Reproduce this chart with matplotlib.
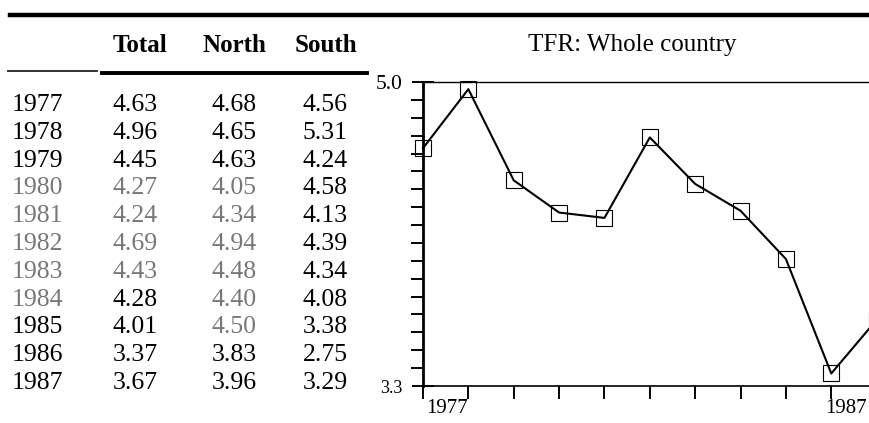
import matplotlib
matplotlib.use("Agg")
import matplotlib.pyplot as plt
from matplotlib.lines import Line2D
from matplotlib.transforms import offset_copy

plt.rcParams['font.family'] = ['Liberation Serif', 'DejaVu Serif']

# table data (TFR by region)
years = [1977, 1978, 1979, 1980, 1981, 1982, 1983, 1984, 1985, 1986, 1987]
total = [4.63, 4.96, 4.45, 4.27, 4.24, 4.69, 4.43, 4.28, 4.01, 3.37, 3.67]
north = [4.68, 4.65, 4.63, 4.05, 4.34, 4.94, 4.48, 4.40, 4.50, 3.83, 3.96]
south = [4.56, 5.31, 4.24, 4.58, 4.13, 4.39, 4.34, 4.08, 3.38, 2.75, 3.29]
headers = ['Total', 'North', 'South']
chart_title = 'TFR: Whole country'

# cells that came out faint in the scan (row, col) ; col 0 = year
faint = {(3, 0), (4, 0), (5, 0), (6, 0), (7, 0), (3, 1), (3, 2), (4, 1), (4, 2),
         (5, 1), (5, 2), (6, 2), (7, 2), (8, 2), (6, 1)}

W, H = 870, 423
fig = plt.figure(figsize=(W / 100, H / 100), dpi=100)


def px(x, y):
    return x / W, 1 - y / H


# rules
fig.add_artist(Line2D([10 / W, 1], [1 - 15 / H] * 2, color='black', lw=3.2))
fig.add_artist(Line2D([102 / W, 367 / W], [1 - 73 / H] * 2, color='black', lw=2.8))
fig.add_artist(Line2D([8 / W, 97 / W], [1 - 71 / H] * 2, color='#333333', lw=1.4))

# table
col_x = [135, 234, 325]
head_x = [140, 234, 326]
fs = 18.5
for hx, h in zip(head_x, headers):
    fig.text(*px(hx, 45), h, ha='center', va='center', fontsize=18, fontweight='bold')

for i, yr in enumerate(years):
    y = 105 + i * 27.8
    c = '#777777' if (i, 0) in faint else 'black'
    fig.text(*px(12, y), str(yr), ha='left', va='center', fontsize=fs, color=c)
    for j, vals in enumerate([total, north, south]):
        c = '#777777' if (i, j + 1) in faint else 'black'
        fig.text(*px(col_x[j], y), f'{vals[i]:.2f}', ha='center', va='center',
                 fontsize=fs, color=c)

# chart
fig.text(*px(632, 45), chart_title, ha='center', va='center', fontsize=18)

ax = fig.add_axes([423 / W, 1 - 386 / H, (922 - 423) / W, (386 - 82) / H])
ax.plot(years, total, color='black', lw=1.5, marker='s', ms=11,
        mfc='none', mec='black', mew=0.8, clip_on=False)
ax.set_xlim(1977, 1988)
ax.set_ylim(3.3, 5.0)

ax.spines['right'].set_visible(False)
ax.spines['left'].set_linewidth(2.0)
ax.spines['top'].set_linewidth(1.0)
ax.spines['bottom'].set_linewidth(1.2)

ax.set_yticks([3.3, 5.0])
ax.set_yticklabels(['3.3', '5.0'])
ax.set_yticks([3.3 + 0.1 * k for k in range(1, 17)], minor=True)
ax.tick_params(axis='y', which='major', direction='inout', length=16, width=1.4, pad=7)
ax.tick_params(axis='y', which='minor', direction='out', length=9, width=1.4)
for lab, size in zip(ax.get_yticklabels(), [13, 15.5]):
    lab.set_fontsize(size)

ax.set_xticks(years)
ax.set_xticklabels(['' for _ in years])
ax.tick_params(axis='x', direction='out', length=9, width=1.4)
xt = ax.get_xaxis_transform()
ax.text(years[0], 0, str(years[0]), transform=offset_copy(xt, fig, x=3, y=-13, units='dots'),
        ha='left', va='top', fontsize=15)
# last label pulled in so it stays inside the canvas
ax.text(years[-1], 0, str(years[-1]), transform=offset_copy(xt, fig, x=-10, y=-13, units='dots'),
        ha='right', va='top', fontsize=15)

fig.savefig('out.png', dpi=100)
